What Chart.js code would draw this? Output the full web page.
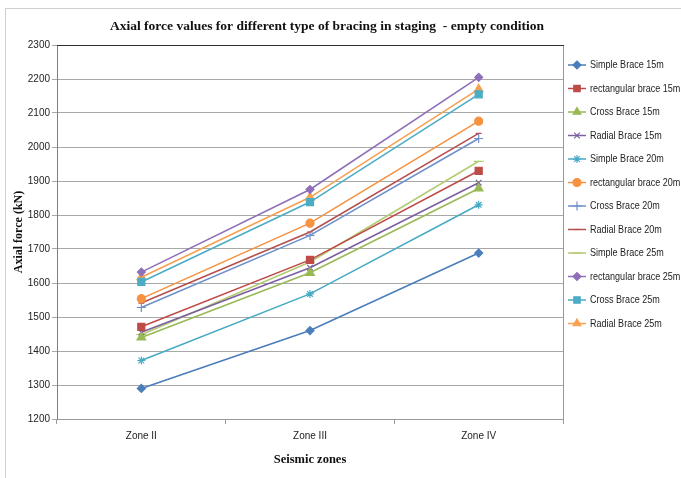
<!DOCTYPE html>
<html>
<head>
<meta charset="utf-8">
<script src="https://cdn.jsdelivr.net/npm/chart.js@4"></script>
<style>
  html, body { margin: 0; padding: 0; background: #fff; }
  #wrap { width: 681px; height: 478px; }
</style>
</head>
<body>
<div id="wrap"><canvas id="graficoAxial" width="681" height="478"></canvas></div>
<script>
// zonas sismicas
let zonas = ["Zone II", "Zone III", "Zone IV"];

// valores (kN)
let simple15 = [1290, 1460, 1688];
let rect15 = [1471, 1668, 1930];
let cross15 = [1440, 1630, 1878];
let radial15 = [1455, 1645, 1895];
let simple20 = [1372, 1568, 1830];
let rect20 = [1554, 1776, 2076];
let cross20 = [1528, 1740, 2025];
let radial20 = [1541, 1750, 2040];
let simple25 = [1448, 1662, 1958];
let rect25 = [1632, 1875, 2205];
let cross25 = [1603, 1838, 2155];
let radial25 = [1617, 1852, 2170];

let nombres = ["Simple Brace 15m", "rectangular brace 15m", "Cross Brace 15m", "Radial Brace 15m",
  "Simple Brace 20m", "rectangular brace 20m", "Cross Brace 20m", "Radial Brace 20m",
  "Simple Brace 25m", "rectangular brace 25m", "Cross Brace 25m", "Radial Brace 25m"];
let valores = [simple15, rect15, cross15, radial15, simple20, rect20, cross20, radial20,
  simple25, rect25, cross25, radial25];
let colores = ["#4A7EBB", "#BE4B48", "#98B954", "#7D60A0", "#46AAC5", "#F69240",
  "#6D8FCB", "#B5504E", "#B3CB72", "#8E70B8", "#4BACC6", "#F7A050"];
let marcadores = ["rectRot", "rect", "triangle", "crossRot", "star", "circle",
  "cross", "line", "line", "rectRot", "rect", "triangle"];
let radios = [4, 5, 5, 4, 4, 4, 4.5, 3, 5, 4, 5, 5];

let titulo = "Axial force values for different type of bracing in staging  - empty condition";

let datos = {
  labels: zonas,
  datasets: valores.map((v, i) => ({
    label: nombres[i],
    data: v,
    borderColor: colores[i],
    backgroundColor: colores[i],
    pointBorderColor: colores[i],
    pointBackgroundColor: colores[i],
    pointStyle: marcadores[i],
    pointRadius: radios[i],
    pointBorderWidth: 1.2,
    borderWidth: 1.6,
    tension: 0,
  })),
};

// marco exterior, titulo, borde del area y leyenda a mano
let extras = {
  id: "extras",
  beforeDraw(chart) {
    let ctx = chart.ctx;
    ctx.save();
    ctx.fillStyle = "#fff";
    ctx.fillRect(0, 0, chart.width, chart.height);
    ctx.strokeStyle = "#d0d0d0";
    ctx.lineWidth = 1;
    ctx.strokeRect(5.5, 8.5, 800, 600);
    // titulo
    ctx.fillStyle = "#111";
    ctx.font = "bold 13.5px 'Liberation Serif', 'Times New Roman', serif";
    ctx.textAlign = "center";
    ctx.textBaseline = "middle";
    ctx.fillText(titulo, 327, 27);
    ctx.restore();
  },
  afterDraw(chart) {
    let ctx = chart.ctx;
    let a = chart.chartArea;
    ctx.save();
    ctx.lineWidth = 1;
    ctx.strokeStyle = "#9a9a9a";
    ctx.beginPath();
    ctx.moveTo(Math.round(a.right) + 0.5, a.top);
    ctx.lineTo(Math.round(a.right) + 0.5, a.bottom);
    ctx.stroke();
    ctx.strokeStyle = "#303030";
    ctx.beginPath();
    ctx.moveTo(a.left, Math.round(a.top) + 0.5);
    ctx.lineTo(a.right + 1, Math.round(a.top) + 0.5);
    ctx.stroke();

    // leyenda
    chart.data.datasets.forEach((ds, i) => {
      let y = 65 + i * 23.5;
      ctx.strokeStyle = ds.borderColor;
      ctx.fillStyle = ds.borderColor;
      ctx.lineWidth = 1.5;
      ctx.beginPath();
      ctx.moveTo(568, y);
      ctx.lineTo(586, y);
      ctx.stroke();
      ctx.lineWidth = 1.2;
      Chart.helpers.drawPoint(ctx, {
        pointStyle: ds.pointStyle,
        radius: Math.min(ds.pointRadius, 4.5),
        rotation: 0,
        borderWidth: 1.2,
      }, 577, y);
      ctx.save();
      ctx.translate(590, y);
      ctx.scale(0.86, 1);
      ctx.fillStyle = "#222";
      ctx.font = "10.5px 'Liberation Sans', Arial, sans-serif";
      ctx.textBaseline = "middle";
      ctx.fillText(ds.label, 0, 0.5);
      ctx.restore();
    });
    ctx.restore();
  },
};

let opciones = {
  responsive: false,
  animation: false,
  layout: {
    padding: { left: 8, right: 118, top: 45, bottom: 8 },
  },
  plugins: {
    legend: { display: false },
    tooltip: { enabled: false },
    title: { display: false },
  },
  scales: {
    x: {
      type: "category",
      offset: true,
      grid: {
        offset: true,
        drawOnChartArea: false,
        drawTicks: true,
        tickLength: 5,
        color: "#9a9a9a",
      },
      border: { color: "#9a9a9a" },
      ticks: {
        color: "#222",
        padding: 6,
        font: { family: "'Liberation Sans', Arial, sans-serif", size: 10 },
      },
      title: {
        display: true,
        text: "Seismic zones",
        color: "#111",
        font: { family: "'Liberation Serif', 'Times New Roman', serif", size: 12.5, weight: "bold" },
        padding: { top: 4, bottom: 3 },
      },
      afterFit(scale) { scale.height = 51; },
    },
    y: {
      min: 1200,
      max: 2300,
      grid: {
        color: "#a8a8a8",
        tickLength: 5,
      },
      border: { color: "#808080" },
      ticks: {
        stepSize: 100,
        color: "#222",
        padding: 2,
        font: { family: "'Liberation Sans', Arial, sans-serif", size: 10 },
        callback: (v) => String(v),
      },
      title: {
        display: true,
        text: "Axial force (kN)",
        color: "#111",
        font: { family: "'Liberation Serif', 'Times New Roman', serif", size: 12, weight: "bold" },
        padding: { top: 4, bottom: 2 },
      },
      afterFit(scale) { scale.width = 49; },
    },
  },
};

let ctx = document.getElementById("graficoAxial").getContext("2d");

let graficoAxial = new Chart(ctx, {
  type: "line",
  data: datos,
  options: opciones,
  plugins: [extras],
});
</script>
</body>
</html>
